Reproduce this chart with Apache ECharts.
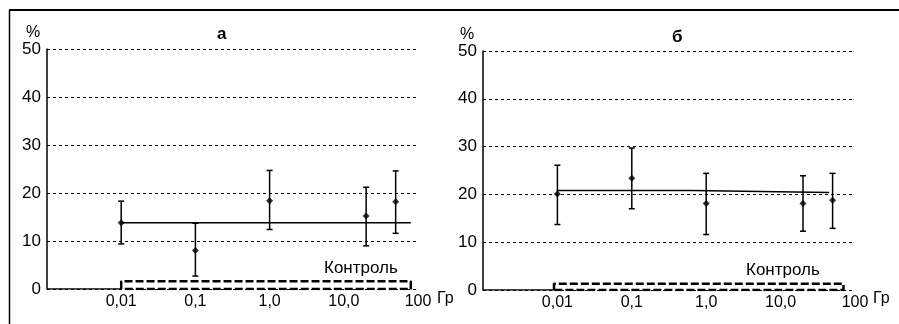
<!DOCTYPE html>
<html>
<head>
<meta charset="utf-8">
<script src="https://cdn.jsdelivr.net/npm/echarts@6/dist/echarts.min.js"></script>
<style>
  html, body { margin: 0; padding: 0; background: #fff; }
  #chart { width: 899px; height: 324px; }
</style>
</head>
<body>
<div id="chart"></div>
<script>
// dose, Гр
const dosesA = [0.01, 0.1, 1, 20, 50];
const meanA = [13.8, 8.0, 18.4, 15.2, 18.2];
const lowA = [9.4, 2.7, 12.4, 9.0, 11.6];
const highA = [18.3, 13.7, 24.7, 21.2, 24.6];
const levelA = [[0.01, 13.8], [80, 13.8]];
const controlA = [[0.01, 0], [0.01, 1.6], [80, 1.6], [80, 0], [0.01, 0]];

const dosesB = [0.01, 0.1, 1, 20, 50];
const meanB = [20.1, 23.4, 18.1, 18.1, 18.8];
const lowB = [13.7, 17.0, 11.6, 12.3, 12.9];
const highB = [26.1, 29.7, 24.4, 23.9, 24.4];
const levelB = [[0.01, 20.8], [0.65, 20.8], [0.65, 20.4], [45, 20.4]];
const controlB = [[0.009, 0], [0.009, 1.3], [70, 1.3], [70, 0], [0.009, 0]];

const axisStart = [[0.001, 0], [0.01, 0]];
const yTicks = [0, 10, 20, 30, 40, 50];
const xLabels = { '0.01': '0,01', '0.1': '0,1', '1': '1,0', '10': '10,0', '100': '100' };

const font = 'Arial, "Liberation Sans", sans-serif';

let chart = echarts.init(document.getElementById('chart'));

function xAxisFor(idx) {
  return {
    type: 'log',
    gridIndex: idx,
    min: 0.001,
    max: 100,
    logBase: 10,
    axisLine: { show: false },
    axisTick: { show: false },
    splitLine: { show: false },
    axisLabel: {
      color: '#000',
      fontSize: 16,
      fontFamily: font,
      margin: 5,
      showMinLabel: false,
      formatter: function (v) {
        return xLabels[String(+v.toPrecision(3))] || '';
      }
    }
  };
}

function yAxisFor(idx) {
  return {
    type: 'value',
    gridIndex: idx,
    min: yTicks[0],
    max: yTicks[yTicks.length - 1],
    interval: 10,
    axisLine: { show: true, lineStyle: { color: '#000', width: 1.5 } },
    axisTick: { show: false },
    axisLabel: { color: '#000', fontSize: 17, fontFamily: font, margin: 6 },
    splitLine: { show: true, lineStyle: { color: '#000', width: 1, type: [3, 3] } }
  };
}

function errorBars(idx, doses, low, high) {
  return {
    type: 'custom',
    xAxisIndex: idx,
    yAxisIndex: idx,
    data: doses.map((d, i) => [d, low[i], high[i]]),
    renderItem: function (params, api) {
      let lo = api.coord([api.value(0), api.value(1)]);
      let hi = api.coord([api.value(0), api.value(2)]);
      let w = 3;
      let st = { stroke: '#000', lineWidth: 1.5 };
      return {
        type: 'group',
        children: [
          { type: 'line', shape: { x1: lo[0], y1: lo[1], x2: hi[0], y2: hi[1] }, style: st },
          { type: 'line', shape: { x1: lo[0] - w, y1: lo[1], x2: lo[0] + w, y2: lo[1] }, style: st },
          { type: 'line', shape: { x1: hi[0] - w, y1: hi[1], x2: hi[0] + w, y2: hi[1] }, style: st }
        ]
      };
    },
    z: 3
  };
}

function means(idx, doses, mean) {
  return {
    type: 'scatter',
    xAxisIndex: idx,
    yAxisIndex: idx,
    symbol: 'diamond',
    symbolSize: 7,
    itemStyle: { color: '#000' },
    data: doses.map((d, i) => [d, mean[i]]),
    z: 4
  };
}

function plainLine(idx, data, style) {
  return {
    type: 'line',
    xAxisIndex: idx,
    yAxisIndex: idx,
    data: data,
    symbol: 'none',
    silent: true,
    lineStyle: style,
    z: 2
  };
}

const option = {
  animation: false,
  backgroundColor: '#fff',
  title: [
    { text: 'а', left: 212, top: 21, textStyle: { fontSize: 17, fontWeight: 'bold', fontFamily: font, color: '#000' } },
    { text: 'б', left: 667, top: 24, textStyle: { fontSize: 17, fontWeight: 'bold', fontFamily: font, color: '#000' } }
  ],
  grid: [
    { left: 47, top: 49, width: 371, height: 240 },
    { left: 483, top: 51, width: 372, height: 239 }
  ],
  xAxis: [xAxisFor(0), xAxisFor(1)],
  yAxis: [yAxisFor(0), yAxisFor(1)],
  series: [
    plainLine(0, axisStart, { color: '#000', width: 1.5 }),
    plainLine(0, levelA, { color: '#000', width: 1.5 }),
    plainLine(0, controlA, { color: '#000', width: 2.5, type: [8, 3] }),
    errorBars(0, dosesA, lowA, highA),
    means(0, dosesA, meanA),
    plainLine(1, axisStart, { color: '#000', width: 1.5 }),
    plainLine(1, levelB, { color: '#000', width: 1.5 }),
    plainLine(1, controlB, { color: '#000', width: 2.5, type: [8, 3] }),
    errorBars(1, dosesB, lowB, highB),
    means(1, dosesB, meanB)
  ],
  graphic: [
    { type: 'line', shape: { x1: 9, y1: 10, x2: 899, y2: 10 }, style: { stroke: '#000', lineWidth: 2 } },
    { type: 'line', shape: { x1: 9.5, y1: 10, x2: 9.5, y2: 324 }, style: { stroke: '#000', lineWidth: 1.5 } },
    { type: 'text', left: 26, top: 25, style: { text: '%', fontSize: 16, fontFamily: font, fill: '#000' } },
    { type: 'text', left: 460, top: 27, style: { text: '%', fontSize: 16, fontFamily: font, fill: '#000' } },
    { type: 'text', left: 324, top: 260, style: { text: 'Контроль', fontSize: 17, fontFamily: font, fill: '#000' } },
    { type: 'text', left: 746, top: 262, style: { text: 'Контроль', fontSize: 17, fontFamily: font, fill: '#000' } },
    { type: 'text', left: 437, top: 291, style: { text: 'Гр', fontSize: 16, fontFamily: font, fill: '#000' } },
    { type: 'text', left: 873, top: 291, style: { text: 'Гр', fontSize: 16, fontFamily: font, fill: '#000' } }
  ]
};

chart.setOption(option);
</script>
</body>
</html>
